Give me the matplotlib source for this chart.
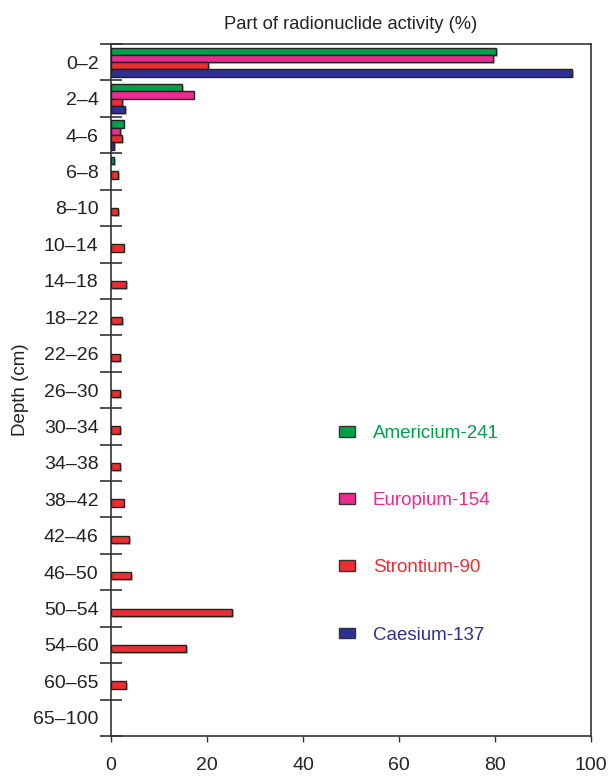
import numpy as np
import matplotlib
matplotlib.use("Agg")
import matplotlib.pyplot as plt
import matplotlib.patheffects as pe
from matplotlib.patches import Patch

plt.rcParams['font.family'] = ['Liberation Sans', 'DejaVu Sans']

# depth intervals (cm), top to bottom
depths = ["0\u20132", "2\u20134", "4\u20136", "6\u20138", "8\u201310", "10\u201314",
          "14\u201318", "18\u201322", "22\u201326", "26\u201330", "30\u201334",
          "34\u201338", "38\u201342", "42\u201346", "46\u201350", "50\u201354",
          "54\u201360", "60\u201365", "65\u2013100"]

# part of activity (%) per nuclide; 0 = no bar
americium = [80.2, 14.8, 2.6, 0.7, 0, 0, 0, 0, 0, 0, 0, 0, 0, 0, 0, 0, 0, 0, 0]
europium = [79.6, 17.2, 1.9, 0, 0, 0, 0, 0, 0, 0, 0, 0, 0, 0, 0, 0, 0, 0, 0]
strontium = [20.3, 2.3, 2.3, 1.5, 1.5, 2.6, 3.1, 2.3, 1.9, 1.9, 1.9, 1.9, 2.6,
             3.8, 4.2, 25.2, 15.7, 3.1, 0]
caesium = [96.1, 3.0, 0.7, 0, 0, 0, 0, 0, 0, 0, 0, 0, 0, 0, 0, 0, 0, 0, 0]

names = ["Americium-241", "Europium-154", "Strontium-90", "Caesium-137"]
colors = ["#00a04b", "#ec2a92", "#ee2d31", "#2e3192"]
series = [americium, europium, strontium, caesium]

fig = plt.figure(figsize=(6.08, 7.76), dpi=100)
ax = fig.add_axes([0.1826, 0.0515, 0.7895, 0.8918])

y = np.arange(len(depths))
offsets = [-0.3, -0.1, 0.1, 0.3]
shadow = [pe.SimplePatchShadow(offset=(1.2, -1.2), shadow_rgbFace='0.6', alpha=0.6),
          pe.Normal()]

for vals, col, off in zip(series, colors, offsets):
    vals = np.array(vals)
    keep = vals > 0
    bars = ax.barh(y[keep] + off, vals[keep], height=0.2, color=col,
                   edgecolor='#222222', linewidth=1.0, zorder=3)
    for b in bars:
        b.set_path_effects(shadow)

ax.set_xlim(0, 100)
ax.set_ylim(len(depths) - 0.5, -0.5)

ax.set_xticks([0, 20, 40, 60, 80, 100])
ax.set_yticks(y)
ax.set_yticklabels(depths)
ax.set_yticks(np.arange(len(depths) + 1) - 0.5, minor=True)
ax.tick_params(axis='y', which='major', length=0, pad=9, labelsize=14, labelcolor='#222222')
ax.tick_params(axis='y', which='minor', direction='inout', length=16, width=1.2, color='#333333')
ax.tick_params(axis='x', which='major', direction='out', length=4, width=1.0,
               color='#333333', pad=11, labelsize=14, labelcolor='#222222')

for s in ax.spines.values():
    s.set_color('#333333')
    s.set_linewidth(1.2)

ax.set_title("Part of radionuclide activity (%)", fontsize=13.2, color='#222222', pad=11)
ax.set_ylabel("Depth (cm)", fontsize=13.5, color='#222222', labelpad=3)

handles = [Patch(facecolor=c, edgecolor='#333333', linewidth=1.0) for c in colors]
leg = ax.legend(handles, names, loc='upper left', bbox_to_anchor=(0.44, 0.474),
                frameon=False, fontsize=13.5, handlelength=0.85, handleheight=0.5,
                handletextpad=0.95, labelspacing=2.68)
for txt, c in zip(leg.get_texts(), colors):
    txt.set_color(c)

fig.savefig("out.png", dpi=100)
